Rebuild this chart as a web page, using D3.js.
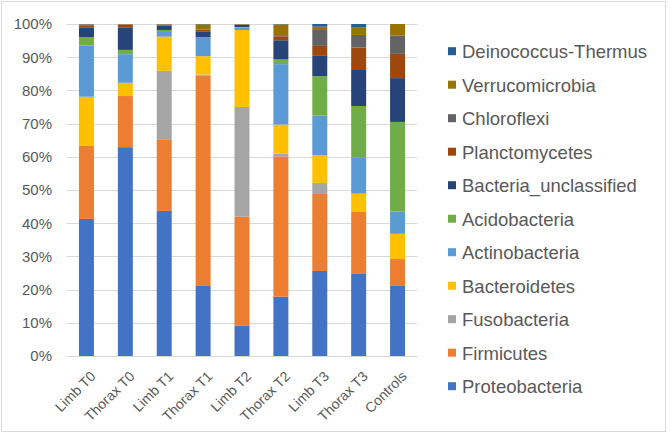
<!DOCTYPE html>
<html>
<head>
<meta charset="utf-8">
<script src="https://cdn.jsdelivr.net/npm/d3@7"></script>
<style>
  html, body { margin: 0; padding: 0; background: #fff; }
  svg { display: block; font-family: "Liberation Sans", Arial, sans-serif; }
</style>
</head>
<body>
<svg id="chart" width="671" height="436"></svg>
<script>
const categories = ["Limb T0", "Thorax T0", "Limb T1", "Thorax T1", "Limb T2", "Thorax T2", "Limb T3", "Thorax T3", "Controls"];
const seriesNames = ["Proteobacteria", "Firmicutes", "Fusobacteria", "Bacteroidetes", "Actinobacteria", "Acidobacteria", "Bacteria_unclassified", "Planctomycetes", "Chloroflexi", "Verrucomicrobia", "Deinococcus-Thermus"];
const proteobacteria       = [41.3, 62.9, 43.7, 21.1,  9.2, 17.9, 25.6, 24.9, 21.1];
const firmicutes           = [22.0, 15.4, 21.4, 63.4, 32.8, 42.3, 23.2, 18.5,  8.1];
const fusobacteria         = [ 0.0,  0.0, 20.8,  0.3, 33.0,  0.8,  3.3,  0.0,  0.0];
const bacteroidetes        = [14.8,  4.0, 10.3,  5.5, 23.2,  8.8,  8.4,  5.5,  7.6];
const actinobacteria       = [15.4,  8.6,  1.4,  5.5,  0.8, 18.2, 11.9, 10.8,  6.7];
const acidobacteria        = [ 2.5,  1.3,  0.6,  0.2,  0.1,  1.4, 11.9, 15.6, 27.0];
const bacteriaUnclassified = [ 3.0,  6.8,  1.3,  1.8,  0.6,  5.8,  6.1, 11.1, 13.2];
const planctomycetes       = [ 0.6,  0.8,  0.3,  0.4,  0.1,  1.2,  3.0,  6.5,  7.3];
const chloroflexi          = [ 0.2,  0.1,  0.1,  0.1,  0.1,  0.1,  4.8,  3.8,  5.5];
const verrucomicrobia      = [ 0.1,  0.1,  0.1,  1.6,  0.1,  3.5,  1.0,  2.2,  3.5];
const deinococcusThermus   = [ 0.1,  0.0,  0.0,  0.1,  0.0,  0.1,  0.8,  1.1,  0.0];
const seriesValues = [proteobacteria, firmicutes, fusobacteria, bacteroidetes, actinobacteria, acidobacteria, bacteriaUnclassified, planctomycetes, chloroflexi, verrucomicrobia, deinococcusThermus];
const seriesColors = ["#4472C4", "#ED7D31", "#A5A5A5", "#FFC000", "#5B9BD5", "#70AD47", "#264478", "#9E480E", "#636363", "#997300", "#255E91"];
const yTicks = [0, 0.1, 0.2, 0.3, 0.4, 0.5, 0.6, 0.7, 0.8, 0.9, 1.0];

// build normalized table
const table = categories.map((c, i) => {
  const row = { category: c };
  let tot = 0;
  seriesNames.forEach((s, k) => { tot += seriesValues[k][i]; });
  seriesNames.forEach((s, k) => { row[s] = seriesValues[k][i] / tot; });
  return row;
});

const svg = d3.select("#chart");

svg.append("rect").attr("x", 1.5).attr("y", 1.5).attr("width", 664).attr("height", 430)
  .attr("fill", "#fff").attr("stroke", "#D9D9D9").attr("stroke-width", 1);

const x = d3.scaleBand().domain(categories).range([67, 417]).paddingInner(0.615).paddingOuter(0.3075);
const y = d3.scaleLinear().domain([0, 1]).range([356, 24]);

// gridlines
svg.append("g").selectAll("line").data(yTicks).join("line")
  .attr("x1", 67).attr("x2", 417)
  .attr("y1", d => Math.round(y(d)) + 0.5).attr("y2", d => Math.round(y(d)) + 0.5)
  .attr("stroke", "#D9D9D9").attr("stroke-width", 1);

// y axis labels
const yAxis = d3.axisLeft(y).tickValues(yTicks).tickFormat(d3.format(".0%")).tickSize(0).tickPadding(15);
const gy = svg.append("g").attr("transform", "translate(67,0)").call(yAxis);
gy.select(".domain").remove();
gy.selectAll("text").attr("fill", "#595959").attr("font-size", "15px").attr("font-family", "'Liberation Sans', Arial, sans-serif");

// stacked bars
const stack = d3.stack().keys(seriesNames);
const stacked = stack(table);
svg.append("g").selectAll("g").data(stacked).join("g")
  .attr("fill", (d, k) => seriesColors[k])
  .selectAll("rect").data(d => d).join("rect")
  .attr("x", d => x(d.data.category))
  .attr("width", x.bandwidth())
  .attr("y", d => y(d[1]))
  .attr("height", d => Math.max(0, y(d[0]) - y(d[1])));

// x axis
const xAxis = d3.axisBottom(x).tickSize(0).tickPadding(8);
const gx = svg.append("g").attr("transform", "translate(0,356)").call(xAxis);
gx.select(".domain").attr("stroke", "#D9D9D9");
gx.selectAll("text")
  .attr("fill", "#595959").attr("font-size", "14px").attr("font-family", "'Liberation Sans', Arial, sans-serif")
  .attr("text-anchor", "end")
  .attr("dy", "0.35em")
  .attr("transform", "translate(1,12) rotate(-45)");

// legend
const legendNames = seriesNames.slice().reverse();
const legendColors = seriesColors.slice().reverse();
const lg = svg.append("g").selectAll("g").data(legendNames).join("g")
  .attr("transform", (d, i) => `translate(448,${51.7 + i * 33.5})`);
lg.append("rect").attr("x", 0).attr("y", -4.5).attr("width", 8).attr("height", 8)
  .attr("fill", (d, i) => legendColors[i]);
lg.append("text").attr("x", 14).attr("y", 0).attr("dy", "0.35em")
  .attr("font-size", "18.5px").attr("fill", "#595959")
  .attr("font-family", "'Liberation Sans', Arial, sans-serif")
  .text(d => d);
</script>
</body>
</html>
